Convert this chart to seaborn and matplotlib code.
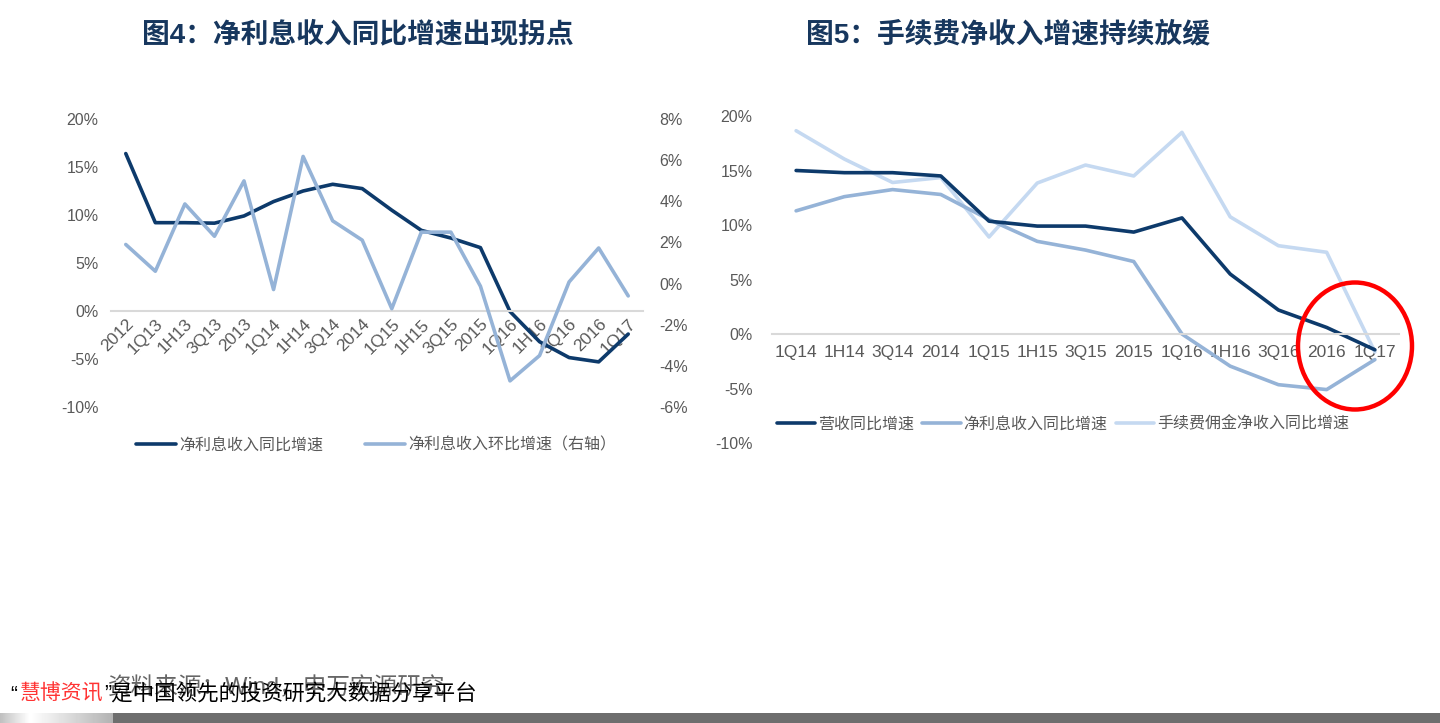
import numpy as np
import pandas as pd
import seaborn as sns
import matplotlib.pyplot as plt
from matplotlib.patches import Ellipse, Rectangle

# 图4 数据
periods4 = ['2012', '1Q13', '1H13', '3Q13', '2013', '1Q14', '1H14', '3Q14', '2014',
            '1Q15', '1H15', '3Q15', '2015', '1Q16', '1H16', '3Q16', '2016', '1Q17']
nii_yoy4 = [16.4, 9.2, 9.2, 9.15, 9.9, 11.4, 12.5, 13.2, 12.75,
            10.5, 8.4, 7.6, 6.6, -0.05, -3.2, -4.85, -5.3, -2.4]
nii_qoq4 = [1.9, 0.6, 3.87, 2.3, 4.99, -0.29, 6.18, 3.05, 2.11,
            -1.22, 2.5, 2.5, -0.13, -4.73, -3.5, 0.08, 1.73, -0.6]

# 图5 数据
periods5 = ['1Q14', '1H14', '3Q14', '2014', '1Q15', '1H15', '3Q15', '2015',
            '1Q16', '1H16', '3Q16', '2016', '1Q17']
rev_yoy5 = [15.0, 14.8, 14.8, 14.5, 10.35, 9.9, 9.9, 9.35, 10.65, 5.5, 2.2, 0.6, -1.45]
nii_yoy5 = [11.3, 12.6, 13.25, 12.8, 10.5, 8.5, 7.7, 6.65, 0.0, -2.95, -4.65, -5.1, -2.35]
fee_yoy5 = [18.65, 16.05, 13.9, 14.35, 8.9, 13.85, 15.5, 14.5, 18.5, 10.75, 8.1, 7.5, -1.65]

c_dark = '#0D3A6B'
c_mid = '#95B3D7'
c_light = '#C5D9F1'
c_tick = '#595959'
c_zero = '#D9D9D9'
c_title = '#17375E'

sns.set_theme(style='white')
plt.rcParams['font.family'] = ['Liberation Sans', 'Noto Sans CJK SC', 'DejaVu Sans']

W, H = 1440, 723
fig = plt.figure(figsize=(W / 100, H / 100), dpi=100)


def px_axes(x0, y0, x1, y1):
    # 像素坐标 -> figure 坐标
    return fig.add_axes([x0 / W, 1 - y1 / H, (x1 - x0) / W, (y1 - y0) / H])


def style_ax(ax):
    for s in ['top', 'right', 'left']:
        ax.spines[s].set_visible(False)
    ax.spines['bottom'].set_position(('data', 0))
    ax.spines['bottom'].set_color(c_zero)
    ax.spines['bottom'].set_linewidth(1.5)
    ax.tick_params(length=0, colors=c_tick, labelsize=11.5)
    ax.grid(False)
    ax.set_facecolor('none')
    ax.set_xlabel('')
    ax.set_ylabel('')


# ---- 图4 ----
ax1 = px_axes(111, 119, 643, 407)
df4 = pd.DataFrame({'x': np.arange(len(periods4)), 'yoy': nii_yoy4, 'qoq': nii_qoq4})
sns.lineplot(data=df4, x='x', y='yoy', ax=ax1, color=c_dark, lw=2.6, label='净利息收入同比增速')
ax1b = ax1.twinx()
sns.lineplot(data=df4, x='x', y='qoq', ax=ax1b, color=c_mid, lw=2.6, label='净利息收入环比增速（右轴）')
ax1.set_ylim(-10, 20)
ax1.set_yticks(np.arange(-10, 21, 5))
ax1.set_yticklabels([f'{v}%' for v in range(-10, 21, 5)])
ax1b.set_ylim(-6, 8)
ax1b.set_yticks(np.arange(-6, 9, 2))
ax1b.set_yticklabels([f'{v}%' for v in range(-6, 9, 2)])
ax1.set_xlim(-0.5, len(periods4) - 0.5)
style_ax(ax1)
style_ax(ax1b)
ax1b.spines['bottom'].set_visible(False)
ax1.tick_params(axis='y', pad=9)
ax1b.tick_params(axis='y', pad=12)
ax1.set_xticks(np.arange(len(periods4)))
ax1.set_xticklabels(periods4, rotation=45, ha='right', va='top', rotation_mode='anchor', fontsize=12.5)
ax1.tick_params(axis='x', pad=4)
ax1.get_legend().remove()
ax1b.get_legend().remove()
h1, l1 = ax1.get_legend_handles_labels()
h2, l2 = ax1b.get_legend_handles_labels()
fig.legend(h1 + h2, l1 + l2, loc='center', bbox_to_anchor=(376 / W, 1 - 445 / H), ncol=2,
           frameon=False, fontsize=11.5, handlelength=2.5, columnspacing=2.6,
           labelcolor=c_tick, handletextpad=0.2)

# ---- 图5 ----
ax2 = px_axes(772, 116, 1399, 443)
df5 = pd.DataFrame({'x': np.arange(len(periods5)), 'rev': rev_yoy5, 'nii': nii_yoy5, 'fee': fee_yoy5})
sns.lineplot(data=df5, x='x', y='fee', ax=ax2, color=c_light, lw=2.6, label='手续费佣金净收入同比增速')
sns.lineplot(data=df5, x='x', y='nii', ax=ax2, color=c_mid, lw=2.6, label='净利息收入同比增速')
sns.lineplot(data=df5, x='x', y='rev', ax=ax2, color=c_dark, lw=2.6, label='营收同比增速')
ax2.set_ylim(-10, 20)
ax2.set_yticks(np.arange(-10, 21, 5))
ax2.set_yticklabels([f'{v}%' for v in range(-10, 21, 5)])
ax2.set_xlim(-0.5, len(periods5) - 0.5)
style_ax(ax2)
ax2.tick_params(axis='y', pad=14)
ax2.set_xticks(np.arange(len(periods5)))
ax2.set_xticklabels(periods5, fontsize=12.5)
ax2.tick_params(axis='x', pad=8)
ax2.get_legend().remove()
h, l = ax2.get_legend_handles_labels()
fig.legend(h[::-1], l[::-1], loc='center', bbox_to_anchor=(1063 / W, 1 - 424 / H), ncol=3,
           frameon=False, fontsize=11.5, handlelength=2.4, columnspacing=0.5,
           labelcolor=c_tick, handletextpad=0.2)

# 红色圈
fig.patches.append(Ellipse((1355 / W, 1 - 346 / H), 114 / W, 127 / H, transform=fig.transFigure,
                           fill=False, edgecolor='#FF0000', lw=3.2, zorder=10))

# 标题
fig.text(358 / W, 1 - 35 / H, '图4：净利息收入同比增速出现拐点', ha='center', va='center',
         fontsize=20, fontweight='bold', color=c_title)
fig.text(1008 / W, 1 - 35 / H, '图5：手续费净收入增速持续放缓', ha='center', va='center',
         fontsize=20, fontweight='bold', color=c_title)

# 页脚（原图中两行文字本身就相互重叠）
fig.text(108 / W, 1 - 688 / H, '资料来源：Wind，申万宏源研究', ha='left', va='center',
         fontsize=17, color='#404040', alpha=0.8)
fig.text(10 / W, 1 - 694 / H, '“', ha='left', va='center', fontsize=15, color='black')
fig.text(20 / W, 1 - 694 / H, '慧博资讯', ha='left', va='center', fontsize=15, color='#FF3333')
fig.text(104 / W, 1 - 694 / H, '”是中国领先的投资研究大数据分享平台', ha='left', va='center',
         fontsize=15.5, color='black')

# 底部条
fig.patches.append(Rectangle((113 / W, 0), 1 - 113 / W, 10 / H, transform=fig.transFigure,
                             facecolor='#6E6E6E', edgecolor='none'))
gax = fig.add_axes([0, 0, 113 / W, 10 / H])
grad = np.concatenate([np.linspace(0.75, 1.0, 30), np.linspace(1.0, 0.7, 83)])
gax.imshow(grad[np.newaxis, :], aspect='auto', cmap='gray', vmin=0, vmax=1)
gax.axis('off')

fig.savefig('out.png', dpi=100)
